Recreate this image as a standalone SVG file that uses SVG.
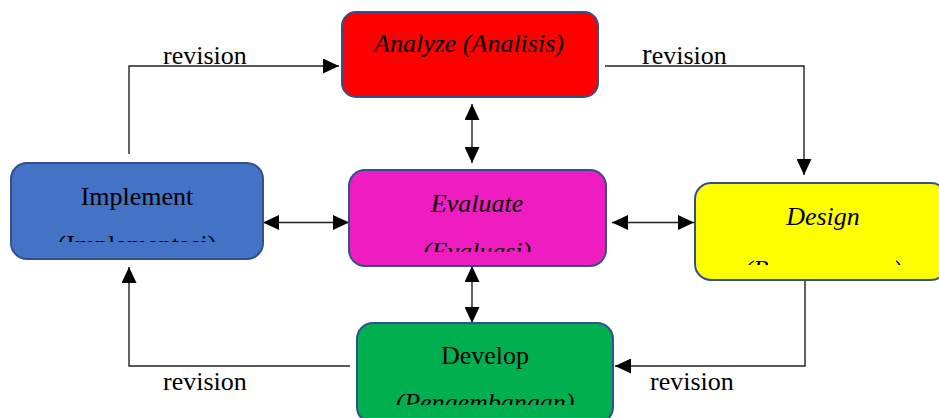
<svg xmlns="http://www.w3.org/2000/svg" width="939" height="418" viewBox="0 0 939 418" font-family="'Liberation Serif', 'DejaVu Serif', serif">
<style>
.box{stroke:#2F528F;stroke-width:2}
.t{font-family:'Liberation Serif','DejaVu Serif',serif;font-size:26px;fill:#000;text-anchor:middle}
.i{font-style:italic}
.lbl{font-family:'Liberation Serif','DejaVu Serif',serif;font-size:26px;fill:#000}
.c{stroke:#222;stroke-width:1.4;fill:none}
</style>
<defs>
<marker id="ah" markerUnits="userSpaceOnUse" markerWidth="16" markerHeight="15" refX="16" refY="7.5" orient="auto-start-reverse">
<path d="M0,0 L16,7.5 L0,15 z" fill="#000"/>
</marker>
<clipPath id="cImp"><rect x="0" y="0" width="939" height="242"/></clipPath>
<clipPath id="cEva"><rect x="0" y="0" width="939" height="252"/></clipPath>
<clipPath id="cDes"><rect x="690" y="230" width="78" height="35"/><rect x="896" y="230" width="50" height="35"/></clipPath>
<clipPath id="cDev"><rect x="0" y="0" width="939" height="405"/></clipPath>
</defs>
<g id="connectors">
<polyline class="c" points="129,154 129,66 339,66" marker-end="url(#ah)"/>
<polyline class="c" points="605,66 804,66 804,175" marker-end="url(#ah)"/>
<polyline class="c" points="350,366 129,366 129,267" marker-end="url(#ah)"/>
<polyline class="c" points="805,273 805,366 615,366" marker-end="url(#ah)"/>
<line class="c" x1="472" y1="104" x2="472" y2="163" marker-start="url(#ah)" marker-end="url(#ah)"/>
<line class="c" x1="472" y1="266" x2="472" y2="323" marker-start="url(#ah)" marker-end="url(#ah)"/>
<line class="c" x1="263" y1="222.5" x2="349" y2="222.5" marker-start="url(#ah)" marker-end="url(#ah)"/>
<line class="c" x1="612" y1="222.5" x2="694" y2="222.5" marker-start="url(#ah)" marker-end="url(#ah)"/>
<text class="lbl" x="163" y="64">revision</text>
<text class="lbl" x="642" y="64"><tspan font-size="29">r</tspan>evision</text>
<text class="lbl" x="163" y="390">revision</text>
<text class="lbl" x="650" y="390">revision</text>
</g>
<g id="analyze">
<rect class="box" x="342" y="12" width="256" height="85" rx="14" fill="#FF0000"/>
<text class="t i" x="469" y="52">Analyze (Analisis)</text>
</g>
<g id="implement">
<rect class="box" x="11" y="163" width="252" height="96" rx="16" fill="#4472C4"/>
<text class="t" x="137" y="205">Implement</text>
<text class="t" x="137" y="253" clip-path="url(#cImp)">(Implementasi)</text>
</g>
<g id="evaluate">
<rect class="box" x="349" y="170" width="257" height="96" rx="16" fill="#EF1DBF"/>
<text class="t i" x="477" y="212">Evaluate</text>
<text class="t i" x="477" y="260" clip-path="url(#cEva)">(Evaluasi)</text>
</g>
<g id="design">
<rect class="box" x="695" y="183" width="252" height="97" rx="16" fill="#FFFF00"/>
<text class="t i" x="823" y="225">Design</text>
<text class="t i" x="823" y="278" clip-path="url(#cDes)">(Perancangan)</text>
</g>
<g id="develop">
<rect class="box" x="357" y="323" width="256" height="100" rx="16" fill="#00B050"/>
<text class="t" x="485" y="364">Develop</text>
<text class="t i" x="485" y="411" clip-path="url(#cDev)">(Pengembangan)</text>
</g>
</svg>
